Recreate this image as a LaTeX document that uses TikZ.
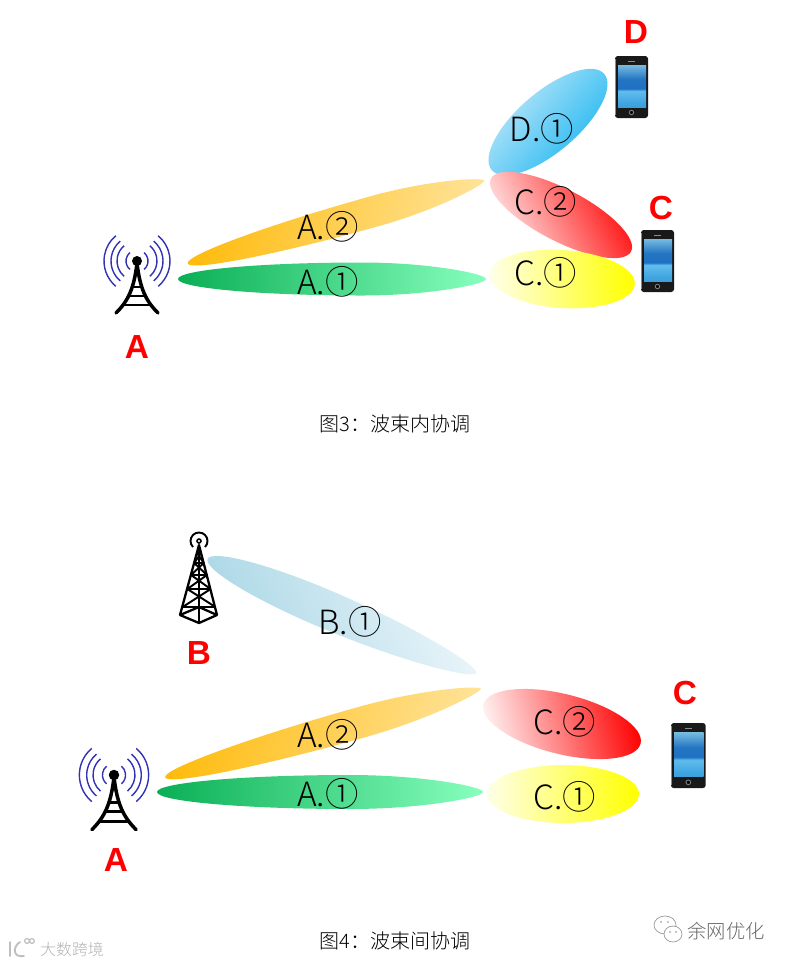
\documentclass[tikz,border=0pt]{standalone}
\usepackage{fontspec}
\setmainfont{Liberation Sans}
\newfontfamily\cjk{Noto Sans CJK SC}
\newfontfamily\cjklight{Noto Sans CJK SC Light}
\usetikzlibrary{positioning}

\definecolor{armblue}{RGB}{50,50,180}
\definecolor{markred}{RGB}{255,0,0}
\definecolor{amberA}{RGB}{255,188,15}
\definecolor{amberB}{RGB}{255,226,150}
\definecolor{greenA}{RGB}{10,175,85}
\definecolor{greenB}{RGB}{135,255,190}
\definecolor{skyA}{RGB}{205,236,250}
\definecolor{skyB}{RGB}{15,178,240}
\definecolor{pinkA}{RGB}{255,242,242}
\definecolor{paleA}{RGB}{255,255,232}
\definecolor{mistA}{RGB}{170,215,230}
\definecolor{mistB}{RGB}{236,246,250}
\pgfdeclareverticalshading{phonescreen}{100bp}{
  rgb(0bp)=(0.16,0.50,0.80);
  rgb(30bp)=(0.25,0.65,0.88);
  rgb(44bp)=(0.38,0.74,0.93);
  rgb(47bp)=(0.12,0.44,0.76);
  rgb(58bp)=(0.14,0.46,0.76);
  rgb(78bp)=(0.52,0.78,0.90);
  rgb(100bp)=(0.80,0.92,0.95)}

% lobe: centre, angle, half length, half width, peak offset, two colours
\newcommand{\lobe}[7]{
  \pgfmathsetmacro{\la}{#5-0.55*(#3+#5)}
  \pgfmathsetmacro{\lb}{#5+0.55*(#3-#5)}
  \pgfmathsetmacro{\lk}{0.55*#4}
  \pgfmathsetmacro{\lq}{(0.55-abs(#5)*0.008)*#4}
  \path[shift={#1},rotate=#2,left color=#6,right color=#7,shading angle=90-#2]
    (-#3,0) .. controls (-#3,\lk) and (\la,#4) .. (#5,#4)
    .. controls (\lb,#4) and (#3,\lq) .. (#3,0)
    .. controls (#3,-\lq) and (\lb,-#4) .. (#5,-#4)
    .. controls (\la,-#4) and (-#3,-\lk) .. (-#3,0) -- cycle;
}

\tikzset{
  beamlabel/.style={font=\cjklight\fontsize{19}{21}\selectfont, inner sep=0pt},
  marklabel/.style={font=\fontsize{19}{21}\selectfont\bfseries, text=markred, inner sep=0pt},
  caption/.style={font=\cjklight\fontsize{11.4}{13}\selectfont, inner sep=0pt},
  radiotower/.pic={
    \foreach \r in {11,20,26,33} {
      \draw[armblue, line width=0.8pt] (50:\r) arc[start angle=50, end angle=-50, radius=\r];
      \draw[armblue, line width=0.8pt] (130:\r) arc[start angle=130, end angle=230, radius=\r];
    }
    \draw[line width=2pt, line cap=round] (0,2) .. controls (-3,28) and (-9,40) .. (-21,52);
    \draw[line width=2pt, line cap=round] (0,2) .. controls (3,28) and (9,40) .. (21,52);
    \draw[line width=1.6pt] (-6,26) -- (6,26);
    \draw[line width=1.6pt] (-9,35) -- (9,35);
    \draw[line width=1.6pt] (-14,44) -- (14,44);
    \fill (0,0) circle[radius=5];
  },
  lattice/.pic={
    \draw[line width=0.9pt] (0,0) circle[radius=2];
    \draw[line width=1.1pt] (-6,6) arc[start angle=135, end angle=405, radius=8.5];
    \draw[line width=1.3pt, line join=round] (0,4) -- (-19,74) -- (0,82) -- (18,74) -- cycle;
    \draw[line width=1.3pt] (0,4) -- (0,82);
    \draw[line width=1.3pt] (-19,74) -- (0,66) -- (18,74);
    \foreach \a/\b in {12/22,22/34,34/48,48/66} {
      \pgfmathsetmacro{\wa}{18.5*(\a-4)/70}
      \pgfmathsetmacro{\wb}{18.5*(\b-4)/70}
      \draw[line width=1.1pt] (-\wa,\a) -- (\wb,\b);
      \draw[line width=1.1pt] (\wa,\a) -- (-\wb,\b);
      \draw[line width=1.1pt] (-\wb,\b) -- (\wb,\b);
    }
  },
  handset/.pic={
    \fill[black!90, rounded corners=1.6] (0,0) rectangle (33,62);
    \path[shading=phonescreen] (3,9) rectangle (31,51);
    \draw[black!45, line width=0.4pt] (13,5.5) -- (20,5.5);
    \draw[black!50, fill=black, line width=0.5pt] (16.5,56.5) circle[radius=2.2];
    \draw[black!45, line width=0.4pt] (0.5,3) -- (0.5,59);
  },
  wmark/.style={black!25, line width=1.1pt, line cap=round}
}

\begin{document}
\begin{tikzpicture}[x=0.02cm, y=-0.02cm]
\useasboundingbox (0,0) rectangle (790,965);

% upper figure
\lobe{(336,222)}{15.6}{154}{15.5}{40}{amberA}{amberB}
\lobe{(332,279)}{0}{154}{16.5}{30}{greenA}{greenB}
\lobe{(548,122)}{40.5}{74}{30}{0}{skyA}{skyB}
\lobe{(561,215)}{-27.5}{79}{26}{0}{pinkA}{red}
\lobe{(562,279)}{-4}{73}{29}{0}{paleA}{yellow}

\node[beamlabel] (a2up) at (328,227) {A.②};
\node[beamlabel] (a1up) at (328,282) {A.①};
\node[beamlabel] (d1up) at (542,129) {D.①};
\node[beamlabel] (c2up) at (546,202) {C.②};
\node[beamlabel] (c1up) at (546,273) {C.①};

\pic at (137,261) {radiotower};
\pic at (615,56) {handset};
\pic at (641,230) {handset};

\node[marklabel] (aup) at (137,347) {A};
\node[marklabel] (dup) at (636,32) {D};
\node[marklabel] (cup) at (661,208) {C};
\node[caption] (capup) at (395,424) {图3：波束内协调};

% lower figure
\lobe{(342,616)}{-23}{146}{19}{-20}{mistA}{mistB}
\lobe{(323,733)}{15.7}{164}{15.5}{40}{amberA}{amberB}
\lobe{(320,792)}{0}{163}{17}{30}{greenA}{greenB}
\lobe{(562,724)}{-14}{81}{30}{0}{pinkA}{red}
\lobe{(563,794)}{0}{76}{29}{0}{paleA}{yellow}

\node[beamlabel] (b1lo) at (350,622) {B.①};
\node[beamlabel] (a2lo) at (328,735) {A.②};
\node[beamlabel] (a1lo) at (328,794) {A.①};
\node[beamlabel] (c2lo) at (565,722) {C.②};
\node[beamlabel] (c1lo) at (565,797) {C.①};

\pic at (199,541) {lattice};
\pic[scale=1.05] at (114,775) {radiotower};
\pic[scale=1.05] at (671,723) {handset};

\node[marklabel] (blo) at (199,653) {B};
\node[marklabel] (alo) at (116,860) {A};
\node[marklabel] (clo) at (685,693) {C};
\node[caption] (caplo) at (395,941) {图4：波束间协调};

% marks at the foot of the page
\draw[black!40, fill=white, line width=0.4pt] (665,925) ellipse[x radius=11, y radius=9];
\draw[black!40, fill=white, line width=0.4pt] (673,934) ellipse[x radius=9, y radius=8];
\fill[black!45] (661,922) circle[radius=0.9] (668,922) circle[radius=0.9] (670,932) circle[radius=0.9] (676,932) circle[radius=0.9];
\node[font=\cjklight\fontsize{11}{13}\selectfont, text=black!60, inner sep=0pt] (name) at (726,931) {余网优化};
\node[font=\cjklight\fontsize{9}{11}\selectfont, text=black!30, inner sep=0pt] (stamp) at (72,949) {大数跨境};
\draw[wmark] (10,942) -- (10,956);
\draw[wmark] (20,942) .. controls (13,946) and (12,958) .. (24,956);
\draw[black!25, line width=0.7pt] (27,941) circle[radius=2.4] (32,941) circle[radius=2.4];
\end{tikzpicture}
\end{document}
